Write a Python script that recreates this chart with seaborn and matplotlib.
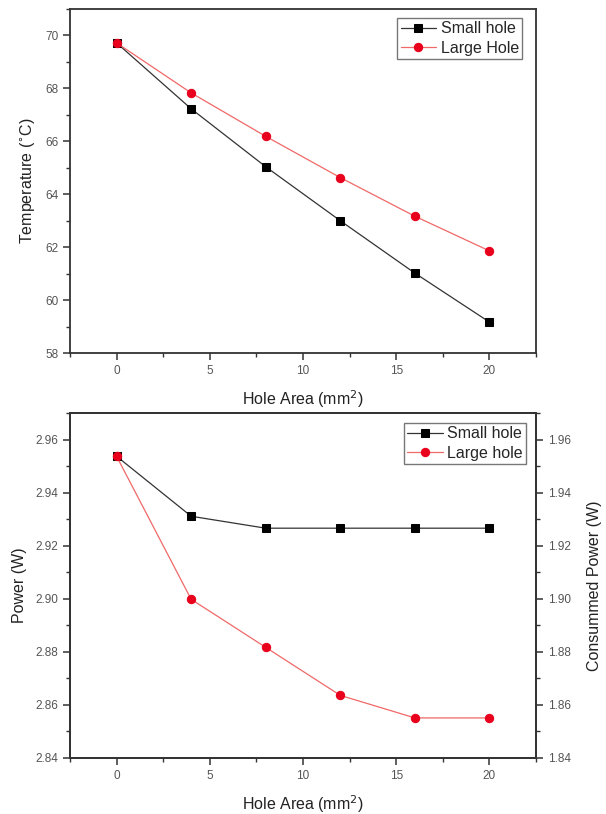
import numpy as np
import pandas as pd
import seaborn as sns
import matplotlib.pyplot as plt
from matplotlib.ticker import MultipleLocator

# Data
hole_area = [0, 4, 8, 12, 16, 20]
temp_small = [69.72, 67.23, 65.04, 63.00, 61.02, 59.17]
temp_large = [69.72, 67.83, 66.19, 64.63, 63.17, 61.86]
power_small = [2.9537, 2.9311, 2.9266, 2.9266, 2.9266, 2.9266]
power_large = [2.9537, 2.8998, 2.8817, 2.8636, 2.8551, 2.8551]

sns.set_style("ticks")
plt.rcParams['font.family'] = ['Liberation Sans', 'DejaVu Sans']

tick_color = '#555555'
spine_color = '#333333'


def style_axes(ax, ymaj, ymin):
    ax.xaxis.set_major_locator(MultipleLocator(5))
    ax.xaxis.set_minor_locator(MultipleLocator(2.5))
    ax.yaxis.set_major_locator(MultipleLocator(ymaj))
    ax.yaxis.set_minor_locator(MultipleLocator(ymin))
    ax.tick_params(which='major', direction='out', length=5, width=1.1,
                   color=spine_color, labelsize=8.5, labelcolor=tick_color)
    ax.tick_params(which='minor', direction='out', length=3, width=1.0,
                   color=spine_color)
    for s in ax.spines.values():
        s.set_color(spine_color)
        s.set_linewidth(1.3)


legend_kw = dict(loc='upper right', fontsize=11.5, frameon=True, fancybox=False,
                 edgecolor='#777777', framealpha=1, borderpad=0.2,
                 handlelength=2.2, handletextpad=0.3, labelspacing=0.3,
                 borderaxespad=0)

fig = plt.figure(figsize=(6.06, 8.14), dpi=100)

# ---------------- Temperature ----------------
ax1 = fig.add_axes([0.1155, 0.5663, 0.769, 0.4226])
sns.lineplot(x=hole_area, y=temp_small, ax=ax1, color='#333333', linewidth=0.9,
             marker='s', markersize=6, markerfacecolor='black',
             markeredgecolor='black', label='Small hole')
sns.lineplot(x=hole_area, y=temp_large, ax=ax1, color='#f06868', linewidth=0.9,
             marker='o', markersize=6, markerfacecolor='#e8001c',
             markeredgecolor='#e8001c', label='Large Hole')
ax1.set_xlim(-2.5, 22.5)
ax1.set_ylim(58, 71)
style_axes(ax1, 2, 1)
ax1.set_xlabel('Hole Area (mm$^2$)', fontsize=11.5, color='#222222', labelpad=8)
ax1.set_ylabel('Temperature ($^{\\circ}$C)', fontsize=11.5, color='#222222', labelpad=6)
ax1.legend(bbox_to_anchor=(0.970, 0.974), **legend_kw)

# ---------------- Power ----------------
ax2 = fig.add_axes([0.1155, 0.0688, 0.769, 0.4238])
sns.lineplot(x=hole_area, y=power_small, ax=ax2, color='#333333', linewidth=0.9,
             marker='s', markersize=6, markerfacecolor='black',
             markeredgecolor='black', label='Small hole')
sns.lineplot(x=hole_area, y=power_large, ax=ax2, color='#f06868', linewidth=0.9,
             marker='o', markersize=6, markerfacecolor='#e8001c',
             markeredgecolor='#e8001c', label='Large hole')
ax2.set_xlim(-2.5, 22.5)
ax2.set_ylim(2.84, 2.97)
style_axes(ax2, 0.02, 0.01)
ax2.yaxis.set_major_formatter(plt.FormatStrFormatter('%.2f'))
ax2.set_xlabel('Hole Area (mm$^2$)', fontsize=11.5, color='#222222', labelpad=8)
ax2.set_ylabel('Power (W)', fontsize=11.5, color='#222222', labelpad=6)

ax3 = ax2.twinx()
ax3.set_ylim(1.84, 1.97)
ax3.yaxis.set_major_locator(MultipleLocator(0.02))
ax3.yaxis.set_minor_locator(MultipleLocator(0.01))
ax3.yaxis.set_major_formatter(plt.FormatStrFormatter('%.2f'))
ax3.tick_params(which='major', direction='out', length=5, width=1.1,
                color=spine_color, labelsize=8.5, labelcolor=tick_color)
ax3.tick_params(which='minor', direction='out', length=3, width=1.0,
                color=spine_color)
for s in ax3.spines.values():
    s.set_color(spine_color)
    s.set_linewidth(1.3)
ax3.set_ylabel('Consummed Power (W)', fontsize=11.5, color='#222222', labelpad=12)

leg = ax2.legend(bbox_to_anchor=(0.979, 0.971), **legend_kw)
leg.remove()
ax3.add_artist(leg)

fig.savefig('out.png', dpi=100)
